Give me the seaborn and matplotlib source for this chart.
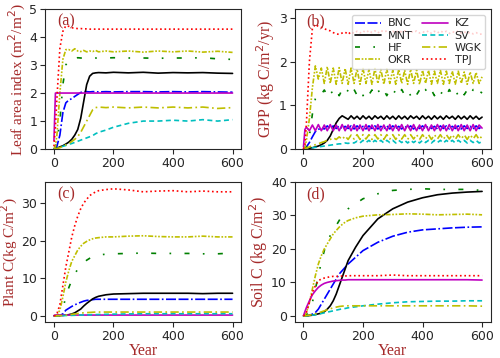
import numpy as np
import pandas as pd
import seaborn as sns
import matplotlib.pyplot as plt

sns.set_style('ticks')

# Sites and line styles
SITES = ['BNC', 'MNT', 'HF', 'OKR', 'KZ', 'SV', 'WGK', 'TPJ']
COLORS = {'BNC': 'b', 'MNT': 'k', 'HF': 'g', 'OKR': 'y', 'KZ': 'm', 'SV': 'c', 'WGK': 'y', 'TPJ': 'r'}
STYLES = {'BNC': (0, (6, 1.5, 6, 1.5, 1, 1.5)), 'MNT': '-', 'HF': (0, (3, 8, 1, 8)),
          'OKR': (0, (3, 1, 1, 1, 1, 1)), 'KZ': '-', 'SV': (0, (3, 2)),
          'WGK': (0, (5, 2, 1, 2)), 'TPJ': ':'}

# Year grid for LAI, plant C and soil C
YEARS = [0, 5, 10, 20, 30, 40, 50, 60, 70, 80, 90, 100, 110, 120, 130, 140, 150,
         175, 200, 250, 300, 350, 400, 450, 500, 550, 600]

# (a) Leaf area index
lai_bnc = [0, 0.02, 0.1, 0.5, 1.3, 1.65, 1.75, 1.8, 1.88, 1.95, 2.02, 2.05, 2.05, 2.04, 2.05, 2.05, 2.04, 2.05, 2.04, 2.05, 2.05, 2.04, 2.05, 2.04, 2.05, 2.04, 2.03]
lai_mnt = [0, 0.01, 0.03, 0.08, 0.12, 0.18, 0.25, 0.35, 0.5, 0.7, 1.1, 1.7, 2.3, 2.6, 2.7, 2.72, 2.73, 2.72, 2.74, 2.72, 2.74, 2.71, 2.73, 2.72, 2.73, 2.71, 2.7]
lai_hf = [0, 0.1, 0.3, 1.0, 2.3, 3.0, 3.2, 3.25, 3.24, 3.26, 3.25, 3.24, 3.25, 3.26, 3.25, 3.25, 3.24, 3.25, 3.26, 3.25, 3.25, 3.24, 3.25, 3.25, 3.26, 3.22, 3.2]
lai_okr = [0, 0.1, 0.5, 2.0, 3.2, 3.55, 3.55, 3.5, 3.58, 3.5, 3.48, 3.52, 3.47, 3.5, 3.48, 3.52, 3.47, 3.5, 3.47, 3.5, 3.46, 3.5, 3.47, 3.5, 3.46, 3.49, 3.45]
lai_kz = [0.3, 2.0, 2.0, 2.0, 2.0, 2.0, 2.0, 2.0, 2.0, 2.0, 2.0, 2.0, 2.0, 2.0, 2.0, 2.0, 2.0, 2.0, 2.0, 2.0, 2.0, 2.0, 2.0, 2.0, 2.0, 2.0, 2.0]
lai_sv = [0, 0.01, 0.02, 0.05, 0.1, 0.13, 0.17, 0.2, 0.24, 0.28, 0.32, 0.36, 0.4, 0.44, 0.48, 0.55, 0.6, 0.68, 0.78, 0.92, 1.0, 1.0, 1.03, 1.0, 1.05, 1.0, 1.05]
lai_wgk = [0, 0.01, 0.02, 0.05, 0.1, 0.15, 0.2, 0.27, 0.35, 0.45, 0.6, 0.8, 1.0, 1.2, 1.4, 1.48, 1.5, 1.48, 1.5, 1.47, 1.5, 1.47, 1.5, 1.47, 1.5, 1.45, 1.48]
lai_tpj = [0.1, 0.8, 1.8, 3.6, 4.2, 4.4, 4.38, 4.33, 4.31, 4.3, 4.3, 4.29, 4.29, 4.28, 4.28, 4.28, 4.28, 4.28, 4.28, 4.28, 4.28, 4.28, 4.28, 4.28, 4.28, 4.28, 4.28]

# (b) GPP on a finer grid (0, 5, 10, 20, ..., 600)
GPP_YEARS = [0, 5] + list(range(10, 601, 10))
gpp_bnc = [0, 0.02, 0.05, 0.15, 0.28, 0.4, 0.45, 0.48, 0.46, 0.53, 0.46, 0.53, 0.47, 0.53, 0.46, 0.52, 0.47, 0.53, 0.46, 0.53,
           0.47, 0.52, 0.46, 0.53, 0.47, 0.53, 0.46, 0.52, 0.47, 0.53, 0.46, 0.53, 0.47, 0.52, 0.46, 0.53, 0.47, 0.53, 0.46, 0.52,
           0.47, 0.53, 0.46, 0.53, 0.47, 0.52, 0.46, 0.53, 0.47, 0.53, 0.46, 0.52, 0.47, 0.53, 0.46, 0.53, 0.47, 0.52, 0.46, 0.53,
           0.47, 0.52]
gpp_mnt = [0, 0, 0.01, 0.02, 0.03, 0.05, 0.07, 0.1, 0.14, 0.2, 0.3, 0.45, 0.6, 0.7, 0.76, 0.72, 0.68, 0.76, 0.69, 0.75,
           0.68, 0.76, 0.69, 0.75, 0.68, 0.76, 0.7, 0.75, 0.68, 0.76, 0.69, 0.75, 0.68, 0.76, 0.69, 0.75, 0.68, 0.76, 0.7, 0.75,
           0.68, 0.76, 0.69, 0.75, 0.68, 0.76, 0.69, 0.75, 0.68, 0.76, 0.7, 0.75, 0.68, 0.76, 0.69, 0.75, 0.68, 0.76, 0.69, 0.75,
           0.68, 0.73]
gpp_hf = [0, 0, 0.05, 0.3, 0.8, 1.15, 1.3, 1.25, 1.35, 1.22, 1.36, 1.23, 1.35, 1.22, 1.36, 1.24, 1.35, 1.22, 1.36, 1.23,
          1.35, 1.22, 1.36, 1.24, 1.35, 1.22, 1.36, 1.23, 1.35, 1.22, 1.36, 1.24, 1.35, 1.22, 1.36, 1.23, 1.35, 1.22, 1.36, 1.24,
          1.35, 1.22, 1.36, 1.23, 1.35, 1.22, 1.36, 1.24, 1.35, 1.22, 1.36, 1.23, 1.35, 1.22, 1.36, 1.24, 1.35, 1.22, 1.36, 1.23,
          1.33, 1.28]
gpp_okr = [0, 0.05, 0.2, 0.7, 1.4, 1.9, 1.6, 1.85, 1.5, 1.88, 1.5, 1.85, 1.48, 1.86, 1.5, 1.84, 1.48, 1.85, 1.5, 1.83,
           1.48, 1.84, 1.5, 1.82, 1.48, 1.84, 1.5, 1.82, 1.48, 1.83, 1.5, 1.8, 1.48, 1.82, 1.5, 1.8, 1.48, 1.82, 1.5, 1.8,
           1.48, 1.8, 1.5, 1.8, 1.48, 1.78, 1.5, 1.8, 1.48, 1.78, 1.5, 1.78, 1.48, 1.78, 1.5, 1.76, 1.48, 1.76, 1.5, 1.75,
           1.5, 1.65]
gpp_kz = [0.05, 0.45, 0.5, 0.42, 0.55, 0.42, 0.56, 0.42, 0.55, 0.42, 0.56, 0.42, 0.55, 0.42, 0.56, 0.42, 0.55, 0.42, 0.56, 0.42,
          0.55, 0.42, 0.56, 0.42, 0.55, 0.42, 0.56, 0.42, 0.55, 0.42, 0.56, 0.42, 0.55, 0.42, 0.56, 0.42, 0.55, 0.42, 0.56, 0.42,
          0.55, 0.42, 0.56, 0.42, 0.55, 0.42, 0.56, 0.42, 0.55, 0.42, 0.56, 0.42, 0.55, 0.42, 0.56, 0.42, 0.55, 0.42, 0.56, 0.42,
          0.55, 0.48]
gpp_sv = [0, 0, 0.01, 0.02, 0.03, 0.04, 0.05, 0.06, 0.07, 0.08, 0.09, 0.1, 0.11, 0.12, 0.12, 0.14, 0.13, 0.15, 0.14, 0.18,
          0.14, 0.2, 0.15, 0.2, 0.14, 0.2, 0.15, 0.2, 0.14, 0.2, 0.15, 0.2, 0.14, 0.2, 0.15, 0.2, 0.14, 0.2, 0.15, 0.2,
          0.14, 0.2, 0.15, 0.2, 0.14, 0.2, 0.15, 0.2, 0.14, 0.2, 0.15, 0.2, 0.14, 0.2, 0.15, 0.2, 0.14, 0.2, 0.15, 0.2,
          0.14, 0.17]
gpp_wgk = [0, 0, 0.02, 0.05, 0.08, 0.1, 0.12, 0.15, 0.17, 0.2, 0.22, 0.26, 0.22, 0.28, 0.22, 0.3, 0.22, 0.32, 0.23, 0.33,
           0.22, 0.33, 0.23, 0.33, 0.22, 0.33, 0.23, 0.33, 0.22, 0.33, 0.23, 0.33, 0.22, 0.33, 0.23, 0.33, 0.22, 0.33, 0.23, 0.33,
           0.22, 0.33, 0.23, 0.33, 0.22, 0.33, 0.23, 0.33, 0.22, 0.33, 0.23, 0.33, 0.22, 0.33, 0.23, 0.33, 0.22, 0.33, 0.23, 0.33,
           0.22, 0.3]
gpp_tpj = [0, 0.1, 0.6, 2.0, 2.75, 2.85, 2.8, 2.78, 2.75, 2.72, 2.7, 2.66, 2.63, 2.62, 2.65, 2.67, 2.62, 2.68, 2.64, 2.69,
           2.65, 2.7, 2.66, 2.71, 2.66, 2.7, 2.65, 2.71, 2.67, 2.7, 2.65, 2.69, 2.66, 2.71, 2.67, 2.7, 2.64, 2.69, 2.66, 2.7,
           2.65, 2.68, 2.66, 2.7, 2.64, 2.69, 2.65, 2.7, 2.66, 2.69, 2.64, 2.68, 2.66, 2.7, 2.65, 2.68, 2.64, 2.67, 2.63, 2.66,
           2.62, 2.63]

# (c) Plant C
pc_bnc = [0, 0, 0, 0.1, 0.5, 1.5, 2.0, 2.5, 2.9, 3.3, 3.6, 3.9, 4.1, 4.2, 4.3, 4.4, 4.4, 4.4, 4.4, 4.4, 4.4, 4.4, 4.4, 4.4, 4.4, 4.4, 4.4]
pc_mnt = [0, 0, 0, 0.05, 0.1, 0.2, 0.3, 0.5, 0.8, 1.3, 1.8, 2.6, 3.3, 3.9, 4.5, 4.9, 5.2, 5.6, 5.8, 5.9, 6.0, 6.0, 6.0, 6.0, 5.9, 6.0, 6.0]
pc_hf = [0, 0, 0.1, 0.5, 2, 5, 7.5, 9.5, 11, 12.5, 13.5, 14.2, 14.8, 15.3, 15.7, 16.0, 16.2, 16.4, 16.5, 16.6, 16.7, 16.6, 16.6, 16.6, 16.5, 16.5, 16.7]
pc_okr = [0, 0.05, 0.2, 1.5, 5, 9, 12, 14.5, 16, 17.5, 18.5, 19.3, 19.8, 20.2, 20.5, 20.7, 20.8, 21.0, 21.0, 21.2, 21.3, 21.1, 21.0, 21.0, 21.2, 21.0, 21.0]
pc_kz = [0.05, 0.2, 0.2, 0.2, 0.2, 0.2, 0.2, 0.2, 0.2, 0.2, 0.2, 0.2, 0.2, 0.2, 0.2, 0.2, 0.2, 0.2, 0.2, 0.2, 0.2, 0.2, 0.2, 0.2, 0.2, 0.2, 0.2]
pc_sv = [0, 0, 0, 0.02, 0.05, 0.08, 0.1, 0.12, 0.15, 0.18, 0.2, 0.22, 0.25, 0.28, 0.3, 0.32, 0.35, 0.4, 0.45, 0.5, 0.55, 0.55, 0.55, 0.55, 0.55, 0.55, 0.55]
pc_wgk = [0, 0, 0, 0.05, 0.1, 0.2, 0.3, 0.4, 0.5, 0.6, 0.7, 0.8, 0.85, 0.9, 0.95, 1.0, 1.0, 1.0, 1.0, 1.0, 1.0, 1.0, 1.0, 1.0, 1.0, 1.0, 1.0]
pc_tpj = [0, 0.1, 0.5, 3, 8, 13, 17, 21, 24, 26.5, 28.5, 30, 31, 32, 32.5, 33, 33.3, 33.6, 33.8, 33.5, 33.0, 33.2, 33.3, 33.0, 33.2, 33.0, 33.0]

# (d) Soil C
sc_bnc = [0, 0, 0, 0.2, 0.5, 1, 2, 3.5, 5, 6.5, 8, 9.5, 11, 12.5, 13.5, 14.5, 15.5, 17.5, 19.5, 22, 23.8, 25, 25.7, 26, 26.3, 26.5, 26.6]
sc_mnt = [0, 0, 0, 0.1, 0.2, 0.4, 0.6, 0.8, 1.2, 2, 3, 4.5, 6.5, 9, 11.5, 14, 16.5, 20.5, 24, 29, 32, 34, 35.3, 36.2, 36.7, 37.0, 37.2]
sc_hf = [0, 0.1, 0.3, 1.5, 4, 8, 12, 16, 19.5, 22, 24, 25.5, 27, 28.5, 30, 31, 32, 33.5, 35, 36.5, 37.5, 37.8, 38, 37.8, 37.8, 37.8, 37.5]
sc_okr = [0, 0.2, 1, 4, 8, 12, 15.5, 18, 20, 21.5, 23, 24.5, 25.5, 26.5, 27.3, 28, 28.5, 29.3, 29.8, 30.2, 30.3, 30.5, 30.4, 30.2, 30.3, 30.4, 30.2]
sc_kz = [0, 1.3, 2.5, 4.5, 6.3, 7.5, 8.5, 9.2, 9.7, 10, 10.2, 10.4, 10.5, 10.6, 10.7, 10.7, 10.8, 10.8, 10.8, 10.8, 10.8, 10.8, 10.8, 10.8, 10.8, 10.8, 10.7]
sc_sv = [0, 0, 0, 0.1, 0.2, 0.3, 0.5, 0.7, 0.9, 1.1, 1.3, 1.5, 1.7, 1.9, 2.1, 2.2, 2.4, 2.7, 3.0, 3.5, 3.9, 4.2, 4.3, 4.4, 4.4, 4.5, 4.5]
sc_wgk = [0, 0, 0.05, 0.2, 0.4, 0.6, 0.9, 1.2, 1.5, 1.8, 2.1, 2.4, 2.6, 2.8, 2.9, 3.0, 3.0, 3.0, 3.0, 3.0, 3.0, 3.0, 3.0, 3.0, 3.0, 3.0, 2.9]
sc_tpj = [0, 0.3, 1, 4, 7, 9, 10.5, 11, 11.3, 11.5, 11.7, 11.8, 11.8, 11.8, 11.9, 11.9, 12, 12, 12, 12, 12.2, 12, 12, 12, 12, 12, 12]

panels = [
    ('(a)', 'Leaf area index (m$^2$/m$^2$)', 11, YEARS,
     [lai_bnc, lai_mnt, lai_hf, lai_okr, lai_kz, lai_sv, lai_wgk, lai_tpj], (0, 5), [0, 1, 2, 3, 4, 5]),
    ('(b)', 'GPP (kg C/m$^2$/yr)', 11.5, GPP_YEARS,
     [gpp_bnc, gpp_mnt, gpp_hf, gpp_okr, gpp_kz, gpp_sv, gpp_wgk, gpp_tpj], (0, 3.2), [0, 1, 2, 3]),
    ('(c)', 'Plant C(kg C/m$^2$)', 11, YEARS,
     [pc_bnc, pc_mnt, pc_hf, pc_okr, pc_kz, pc_sv, pc_wgk, pc_tpj], (-1.7, 35.6), [0, 10, 20, 30]),
    ('(d)', 'Soil C (kg C/m$^2$)', 11.5, YEARS,
     [sc_bnc, sc_mnt, sc_hf, sc_okr, sc_kz, sc_sv, sc_wgk, sc_tpj], (-1.9, 40), [0, 10, 20, 30, 40]),
]

LABEL_COLOR = '#a52a2a'
SERIF = 'Liberation Serif'

fig, axes = plt.subplots(2, 2, figsize=(5, 3.58), dpi=100)
fig.subplots_adjust(left=0.09, right=0.982, top=0.975, bottom=0.1, wspace=0.27, hspace=0.235)

for ax, (tag, ylab, lab_size, years, series, ylim, yticks) in zip(axes.flat, panels):
    for site, vals in zip(SITES, series):
        df = pd.DataFrame({'year': years, 'value': vals})
        sns.lineplot(data=df, x='year', y='value', ax=ax, color=COLORS[site],
                     linestyle=STYLES[site], linewidth=1.2, label=site, legend=False)
    ax.set_xlim(-30, 630)
    ax.set_ylim(*ylim)
    ax.set_xticks([0, 200, 400, 600])
    ax.set_yticks(yticks)
    ax.tick_params(labelsize=9, length=3.5, width=0.8, pad=2)
    ax.set_ylabel(ylab, family=SERIF, fontsize=lab_size, color=LABEL_COLOR, labelpad=1)
    ax.set_xlabel('')
    ax.text(0.06, 0.97, tag, transform=ax.transAxes, family=SERIF,
            fontsize=11.5, color=LABEL_COLOR, va='top', ha='left')

for ax in axes[1]:
    ax.set_xlabel('Year', family=SERIF, fontsize=11.5, color=LABEL_COLOR, labelpad=0)

handles, labels = axes[0, 1].get_legend_handles_labels()
axes[0, 1].legend(handles, labels, ncol=2, fontsize=8, loc='upper right',
                  handlelength=2.3, columnspacing=0.9, labelspacing=0.2,
                  handletextpad=0.6, borderpad=0.35, framealpha=0.8)

fig.savefig('out.png', dpi=100)
